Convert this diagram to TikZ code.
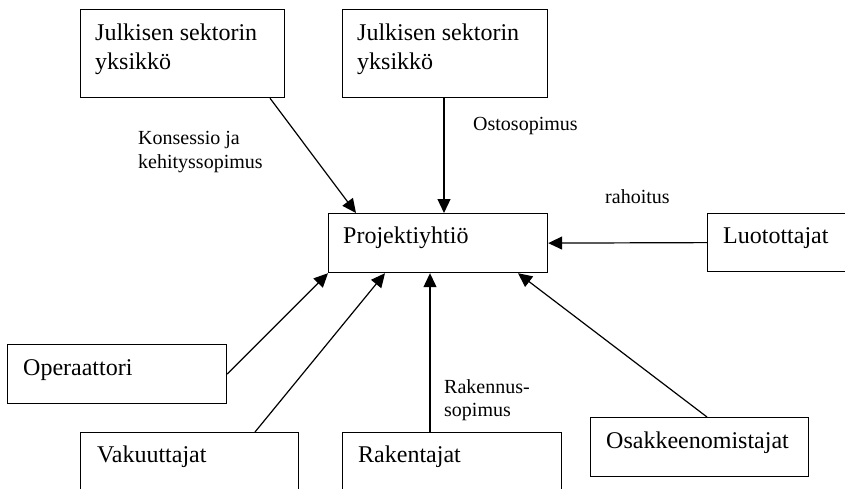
\documentclass[tikz,border=0pt]{standalone}
\usepackage{fontspec}
\setmainfont{Liberation Serif}
\usetikzlibrary{arrows.meta}
\begin{document}
\begin{tikzpicture}[x=1pt,y=-1pt,
  box/.style={draw,line width=1.2pt,rectangle,inner sep=0pt,anchor=north west},
  boxtext/.style={anchor=base west,inner sep=0pt,font=\fontsize{24}{29}\selectfont},
  lab/.style={anchor=base west,inner sep=0pt,font=\fontsize{20}{24}\selectfont},
  conn/.style={line width=1.2pt,-{Triangle[length=14pt,width=13pt]}}]
\useasboundingbox (0,0) rectangle (845,488);
\clip (0,0) rectangle (845,488);
% boxes
\node[box,minimum width=204pt,minimum height=88pt] (tl) at (80,9) {};
\node[box,minimum width=205pt,minimum height=88pt] (tm) at (342,9) {};
\node[box,minimum width=219pt,minimum height=59pt] (pj) at (328,213) {};
\node[box,minimum width=145pt,minimum height=58pt] (lu) at (707,213) {};
\node[box,minimum width=219pt,minimum height=59pt] (op) at (7,344) {};
\node[box,minimum width=218pt,minimum height=70pt] (vk) at (80,432) {};
\node[box,minimum width=219pt,minimum height=70pt] (rk) at (342,432) {};
\node[box,minimum width=218pt,minimum height=59pt] (os) at (590,417) {};
% box texts
\node[boxtext] (tlt1) at (95,40) {Julkisen sektorin};
\node[boxtext] (tlt2) at (95,69) {yksikkö};
\node[boxtext] (tmt1) at (357,40) {Julkisen sektorin};
\node[boxtext] (tmt2) at (357,69) {yksikkö};
\node[boxtext] (pjt) at (343,243) {Projektiyhtiö};
\node[boxtext] (lut) at (723,243) {Luotottajat};
\node[boxtext] (opt) at (23,375) {Operaattori};
\node[boxtext] (vkt) at (97,462) {Vakuuttajat};
\node[boxtext] (rkt) at (358,462) {Rakentajat};
\node[boxtext] (ost) at (606,448) {Osakkeenomistajat};
% labels
\node[lab] (l1a) at (138,144) {Konsessio ja};
\node[lab] (l1b) at (138,168) {kehityssopimus};
\node[lab] (l2) at (473,130) {Ostosopimus};
\node[lab] (l3) at (605,203) {rahoitus};
\node[lab] (l4a) at (444,393) {Rakennus-};
\node[lab] (l4b) at (444,416) {sopimus};
% connectors
\draw[conn] ([xshift=190pt]tl.south west) -- ([xshift=28pt]pj.north west);
\draw[conn] ([xshift=102pt]tm.south west) -- ([xshift=116pt]pj.north west);
\draw[conn] (lu.west) -- (pj.east);
\draw[conn] (op.east) -- (pj.south west);
\draw[conn] ([xshift=175pt]vk.north west) -- ([xshift=57pt]pj.south west);
\draw[conn] ([xshift=88pt]rk.north west) -- ([xshift=102pt]pj.south west);
\draw[conn] ([xshift=117pt]os.north west) -- ([xshift=190pt]pj.south west);
\end{tikzpicture}
\end{document}
